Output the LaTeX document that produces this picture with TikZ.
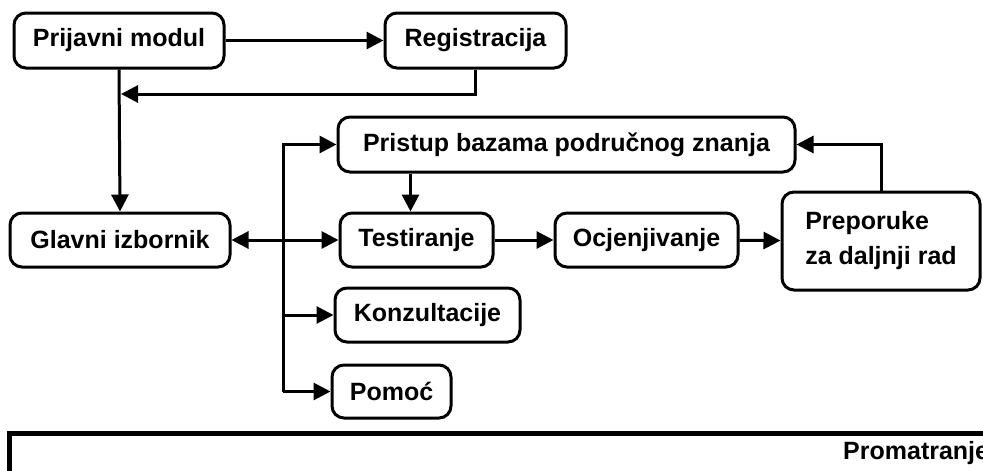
\documentclass[tikz,border=0pt]{standalone}
\usepackage{fontspec}
\setmainfont{Liberation Sans}
\usetikzlibrary{arrows.meta}
\begin{document}
\begin{tikzpicture}[x=1pt,y=-1pt,
  >={Triangle[length=17pt,width=17pt]},
  box/.style={draw, line width=3pt, rounded corners=12pt, inner sep=0pt,
    font=\bfseries\fontsize{25}{35}\selectfont},
  conn/.style={line width=3pt, ->},
  conn2/.style={line width=3pt, <->}]
\useasboundingbox (0,0) rectangle (983,471);
\fill[white] (0,0) rectangle (983,471);

\node[box, minimum width=210pt, minimum height=55pt] (pm) at (119,40.5) {Prijavni modul};
\node[box, minimum width=181pt, minimum height=55pt] (reg) at (475.5,40.5) {Registracija};
\node[box, minimum width=220pt, minimum height=54pt] (gi) at (120,240) {Glavni izbornik};
\node[box, minimum width=457pt, minimum height=55pt] (pbz) at (566.5,144.5) {Pristup bazama područnog znanja};
\node[box, minimum width=153pt, minimum height=54pt] (test) at (416.5,240) {Testiranje};
\node[box, minimum width=183pt, minimum height=54pt] (ocj) at (646.5,240) {Ocjenjivanje};
\node[box, minimum width=198pt, minimum height=98pt, align=left] (prep) at (881,241) {Preporuke\\za daljnji rad};
\node[box, minimum width=185pt, minimum height=54pt] (konz) at (427.5,315) {Konzultacije};
\node[box, minimum width=119pt, minimum height=53pt] (pom) at (391.5,391.5) {Pomoć};

\coordinate (ret) at (121,94);
\coordinate (bus) at (283,0);

\draw[conn] (pm) -- (reg);
\draw[conn] (reg.south) |- (ret);
\draw[conn] (pm.south) -- (gi.north);
\draw[conn] (pom.west -| bus) |- (pbz.west);
\draw[conn] (pom.west -| bus) -- (pom.west);
\draw[conn] (konz.west -| bus) -- (konz.west);
\draw[conn2] (gi.east) -- (test.west);
\draw[conn] ([xshift=-6pt]test.north |- pbz.south) -- ([xshift=-6pt]test.north);
\draw[conn] (test) -- (ocj);
\draw[conn] (ocj) -- (prep);
\draw[conn] (prep.north) |- (pbz.east);

\draw[line width=5pt] (9,433) rectangle (1010,520);
\node[anchor=west, inner sep=0pt, font=\bfseries\fontsize{25}{30}\selectfont] (prom) at (843,453) {Promatranje};
\end{tikzpicture}
\end{document}
